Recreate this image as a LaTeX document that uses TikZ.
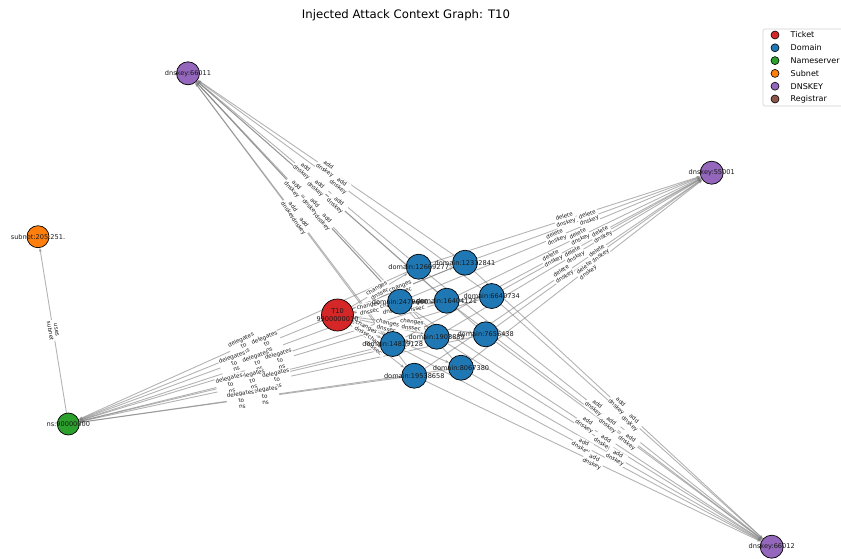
\documentclass[tikz,border=0pt]{standalone}
\usepackage{fontspec}
\setmainfont{DejaVu Sans}
\usetikzlibrary{arrows.meta}

\pgfdeclarelayer{edgelayer}
\pgfdeclarelayer{labellayer}
\pgfsetlayers{edgelayer,labellayer,main}

\definecolor{ticketred}{HTML}{D62728}
\definecolor{domainblue}{HTML}{1F77B4}
\definecolor{nsgreen}{HTML}{2CA02C}
\definecolor{subnetorange}{HTML}{FF7F0E}
\definecolor{keypurple}{HTML}{9467BD}
\definecolor{regbrown}{HTML}{8C564B}

\tikzset{
  gnode/.style={circle, draw=black, line width=0.7pt, inner sep=0pt},
  ticketnode/.style={gnode, fill=ticketred, minimum size=32pt},
  domainnode/.style={gnode, fill=domainblue, minimum size=25pt},
  nsnode/.style={gnode, fill=nsgreen, minimum size=22pt},
  subnetnode/.style={gnode, fill=subnetorange, minimum size=22pt},
  keynode/.style={gnode, fill=keypurple, minimum size=23pt},
  nlabel/.style={font=\fontsize{6.6}{8}\selectfont, align=center, text=black!90, inner sep=0pt},
  edge/.style={draw=gray, opacity=0.6, line width=0.9pt, -{Stealth[length=4pt,width=3pt]}},
  elabel/.style={sloped, fill=white, inner sep=0.8pt, rounded corners=1.5pt,
    font=\fontsize{5.6}{6.4}\selectfont, align=center, text=black!90},
  legmark/.style={circle, draw=black, line width=0.6pt, inner sep=0pt, minimum size=8pt},
  legtext/.style={anchor=west, font=\fontsize{8}{9}\selectfont, inner sep=0pt},
}

\begin{document}
\begin{tikzpicture}[x=1pt, y=-1pt]
\useasboundingbox (0,0) rectangle (841,558);

% title
\node[font=\fontsize{11.7}{14}\selectfont] (title) at (406,15) {Injected Attack Context Graph: T10};

% nodes
\node[ticketnode] (t10) at (337.5,315) {};
\node[domainnode] (d1) at (418.7,266.7) {};
\node[domainnode] (d2) at (465,262.7) {};
\node[domainnode] (d3) at (400,301.7) {};
\node[domainnode] (d4) at (446.7,300.7) {};
\node[domainnode] (d5) at (491.7,296) {};
\node[domainnode] (d6) at (436.7,336.7) {};
\node[domainnode] (d7) at (485.7,334.3) {};
\node[domainnode] (d8) at (392.7,344) {};
\node[domainnode] (d9) at (461,367.7) {};
\node[domainnode] (d10) at (414.3,375.7) {};
\node[subnetnode] (sub) at (38,236.7) {};
\node[nsnode] (ns) at (68.3,424) {};
\node[keynode] (k1) at (188,73.3) {};
\node[keynode] (k2) at (711.7,172.7) {};
\node[keynode] (k3) at (771.7,546.7) {};

% connectors
\begin{pgfonlayer}{edgelayer}
\foreach \i in {1,...,10}{
  \draw[edge] (t10) -- (d\i);
  \draw[edge] (d\i) -- (ns);
  \draw[edge] (d\i) -- (k1);
  \draw[edge] (d\i) -- (k2);
  \draw[edge] (d\i) -- (k3);
}
\draw[edge] (ns) -- (sub);
\end{pgfonlayer}

% connector labels
\begin{pgfonlayer}{labellayer}
\foreach \i in {1,...,10}{
  \path (t10.center) -- node[elabel] {changes\\dnssec} (d\i.center);
  \path (d\i.center) -- node[elabel] {delegates\\to\\ns} (ns.center);
  \path (d\i.center) -- node[elabel] {add\\dnskey} (k1.center);
  \path (d\i.center) -- node[elabel] {delete\\dnskey} (k2.center);
  \path (d\i.center) -- node[elabel] {add\\dnskey} (k3.center);
}
\path (ns.center) -- node[elabel] {uses\\subnet} (sub.center);
\end{pgfonlayer}

% node texts
\node[nlabel] at (t10) {T10\\9900000010};
\node[nlabel] at (d1) {domain:12669277};
\node[nlabel] at (d2) {domain:12312841};
\node[nlabel] at (d3) {domain:2479660};
\node[nlabel] at (d4) {domain:16404121};
\node[nlabel] at (d5) {domain:6640734};
\node[nlabel] at (d6) {domain:1908889};
\node[nlabel] at (d7) {domain:7656438};
\node[nlabel] at (d8) {domain:14819128};
\node[nlabel] at (d9) {domain:8067380};
\node[nlabel] at (d10) {domain:19538658};
\node[nlabel] at (sub) {subnet:205.251.};
\node[nlabel] at (ns) {ns:90000000};
\node[nlabel] at (k1) {dnskey:66011};
\node[nlabel] at (k2) {dnskey:55001};
\node[nlabel] at (k3) {dnskey:66012};

% legend
\draw[draw=black!18, fill=white, rounded corners=2pt, line width=0.6pt] (763,29) rectangle (846,106);
\node[legmark, fill=ticketred] (lg1) at (775,35) {};
\node[legmark, fill=domainblue] (lg2) at (775,47.8) {};
\node[legmark, fill=nsgreen] (lg3) at (775,60.6) {};
\node[legmark, fill=subnetorange] (lg4) at (775,73.4) {};
\node[legmark, fill=keypurple] (lg5) at (775,86.2) {};
\node[legmark, fill=regbrown] (lg6) at (775,99) {};
\node[legtext] at (790.5,35) {Ticket};
\node[legtext] at (790.5,47.8) {Domain};
\node[legtext] at (790.5,60.6) {Nameserver};
\node[legtext] at (790.5,73.4) {Subnet};
\node[legtext] at (790.5,86.2) {DNSKEY};
\node[legtext] at (790.5,99) {Registrar};
\end{tikzpicture}
\end{document}
